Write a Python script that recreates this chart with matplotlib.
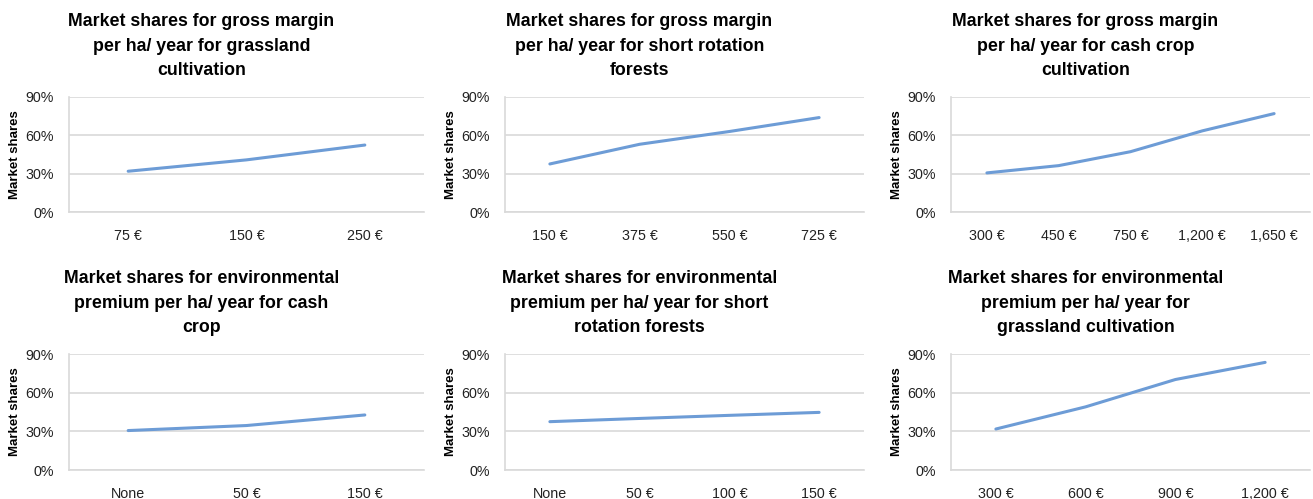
import matplotlib
matplotlib.use("Agg")
import matplotlib.pyplot as plt
from matplotlib.ticker import PercentFormatter

plt.rcParams['font.family'] = ['Liberation Sans', 'DejaVu Sans']

# data (market shares in %)
titles = [
    "Market shares for gross margin\nper ha/ year for grassland\ncultivation",
    "Market shares for gross margin\nper ha/ year for short rotation\nforests",
    "Market shares for gross margin\nper ha/ year for cash crop\ncultivation",
    "Market shares for environmental\npremium per ha/ year for cash\ncrop",
    "Market shares for environmental\npremium per ha/ year for short\nrotation forests",
    "Market shares for environmental\npremium per ha/ year for\ngrassland cultivation",
]
grass_margin_labels = ["75 €", "150 €", "250 €"]
grass_margin_shares = [31.9, 40.8, 52.4]
src_margin_labels = ["150 €", "375 €", "550 €", "725 €"]
src_margin_shares = [37.6, 53.0, 63.0, 73.9]
cash_margin_labels = ["300 €", "450 €", "750 €", "1,200 €", "1,650 €"]
cash_margin_shares = [30.6, 36.3, 47.2, 63.5, 77.0]
cash_env_labels = ["None", "50 €", "150 €"]
cash_env_shares = [30.6, 34.5, 42.7]
src_env_labels = ["None", "50 €", "100 €", "150 €"]
src_env_shares = [37.5, 40.0, 42.4, 44.7]
grass_env_labels = ["300 €", "600 €", "900 €", "1,200 €"]
grass_env_shares = [31.8, 49.0, 70.2, 83.5]

panels = [
    (grass_margin_labels, grass_margin_shares),
    (src_margin_labels, src_margin_shares),
    (cash_margin_labels, cash_margin_shares),
    (cash_env_labels, cash_env_shares),
    (src_env_labels, src_env_shares),
    (grass_env_labels, grass_env_shares),
]

W, H = 1313, 499
fig = plt.figure(figsize=(W / 100, H / 100), dpi=100)

# axes boxes in pixels: left, top, right, bottom
lefts = [69, 505, 951]
rights = [424, 864, 1310]
rows = [(97, 212), (354, 470)]

line_color = "#6d9cd6"
grid_color = "#d9d9d9"

for i, (labels, shares) in enumerate(panels):
    r, c = divmod(i, 3)
    top, bot = rows[r]
    l, rt = lefts[c], rights[c]
    ax = fig.add_axes([l / W, 1 - bot / H, (rt - l) / W, (bot - top) / H])
    x = list(range(len(labels)))
    ax.plot(x, shares, color=line_color, lw=2.2, solid_capstyle='round')
    ax.set_xlim(-0.5, len(labels) - 0.5)
    ax.set_ylim(0, 90)
    ax.set_yticks([0, 30, 60, 90])
    ax.yaxis.set_major_formatter(PercentFormatter(decimals=0))
    ax.set_xticks(x)
    ax.set_xticklabels(labels)
    ax.tick_params(axis='both', length=0, labelsize=10.3, colors='#222222')
    ax.tick_params(axis='x', pad=12)
    ax.tick_params(axis='y', pad=11)
    ax.grid(axis='y', color=grid_color, lw=1.2)
    ax.set_axisbelow(True)
    for s in ['top', 'right']:
        ax.spines[s].set_visible(False)
    for s in ['left', 'bottom']:
        ax.spines[s].set_color(grid_color)
        ax.spines[s].set_linewidth(1.2)
    ax.set_ylabel("Market shares", fontsize=9.5, fontweight='bold', labelpad=3)
    ax.set_title(titles[i], fontsize=12.8, fontweight='bold', x=0.5 - 45 / (rt - l),
                 pad=16, linespacing=1.55)

fig.savefig("out.png", dpi=100, facecolor='white')
